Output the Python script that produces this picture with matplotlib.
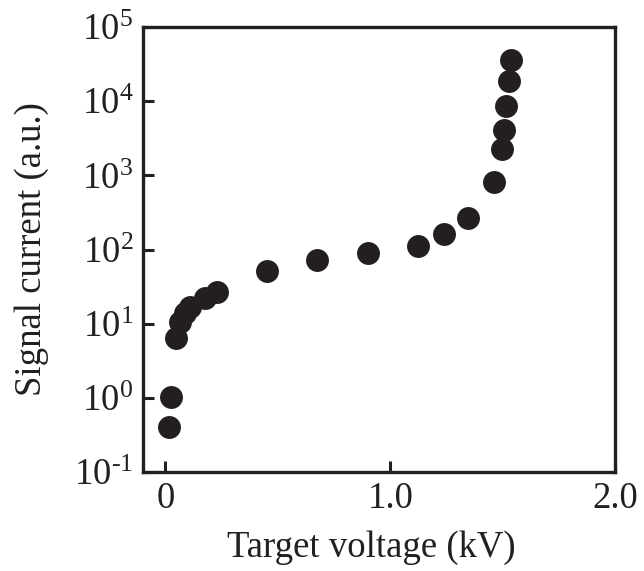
import matplotlib
matplotlib.use("Agg")
import matplotlib.pyplot as plt

plt.rcParams["font.family"] = ["Liberation Serif", "DejaVu Serif"]
plt.rcParams["mathtext.fontset"] = "custom"
plt.rcParams["mathtext.rm"] = "Liberation Serif"

# Target voltage (kV) vs signal current (a.u.)
voltage = [0.015, 0.026, 0.047, 0.066, 0.088, 0.11, 0.176, 0.23,
           0.452, 0.675, 0.90, 1.123, 1.238, 1.347,
           1.461, 1.495, 1.505, 1.517, 1.527, 1.537]
current = [0.41, 1.04, 6.4, 10.7, 14, 17, 22, 26.5,
           51, 73, 90, 111, 163, 268,
           800, 2245, 4090, 8650, 18400, 36100]

x_ticks = [0, 1.0, 2.0]
x_labels = ["0", "1.0", "2.0"]
y_ticks = [1e-1, 1e0, 1e1, 1e2, 1e3, 1e4, 1e5]
y_labels = [r"$\mathregular{10^{%s}}$" % e for e in ["\u2010" + "1", "0", "1", "2", "3", "4", "5"]]

fig = plt.figure(figsize=(6.44, 5.71), dpi=100)
ax = fig.add_axes([0.222, 0.173, 0.733, 0.78])

ax.plot(voltage, current, "o", color="#231f20", markersize=16.5, markeredgewidth=0)

ax.set_yscale("log")
ax.set_xlim(-0.1, 2.0)
ax.set_ylim(1e-1, 1e5)
ax.set_xticks(x_ticks)
ax.set_xticklabels(x_labels)
ax.set_yticks(y_ticks)
ax.set_yticklabels(y_labels)
ax.minorticks_off()

ax.tick_params(direction="in", length=8, width=2.2, labelsize=26.5, colors="#231f20", pad=7)
for s in ax.spines.values():
    s.set_linewidth(2.4)
    s.set_color("#231f20")

ax.set_xlabel("Target voltage (kV)", fontsize=26.5, color="#231f20", labelpad=10)
ax.xaxis.set_label_coords(0.483, -0.13)
ax.set_ylabel("Signal current (a.u.)", fontsize=26.5, color="#231f20", labelpad=18)

fig.savefig("out.png", dpi=100)
